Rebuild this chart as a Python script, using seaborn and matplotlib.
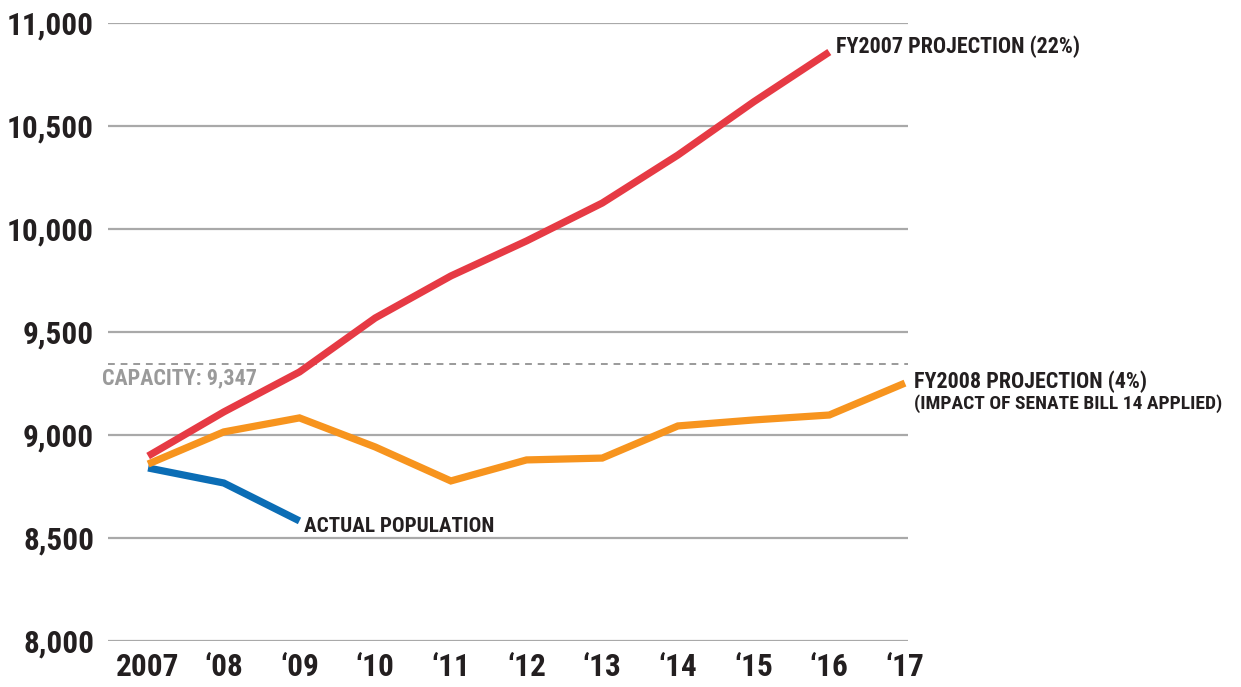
import numpy as np
import pandas as pd
import matplotlib.pyplot as plt
import seaborn as sns

# data
years = [2007, 2008, 2009, 2010, 2011, 2012, 2013, 2014, 2015, 2016, 2017]
tick_labels = ["2007", "\u201808", "\u201809", "\u201810", "\u201811", "\u201812",
               "\u201813", "\u201814", "\u201815", "\u201816", "\u201817"]
fy2007 = [8898, 9112, 9306, 9568, 9772, 9942, 10126, 10359, 10617, 10859]
fy2008 = [8859, 9015, 9083, 8942, 8777, 8879, 8888, 9044, 9073, 9097, 9252]
actual = [8840, 8767, 8583]
capacity = 9347
y_ticks = [8000, 8500, 9000, 9500, 10000, 10500, 11000]

sns.set_style("white")
plt.rcParams['font.family'] = ['Roboto Condensed', 'DejaVu Sans']

fig = plt.figure(figsize=(12.41, 6.87), dpi=100)
ax = fig.add_axes([108 / 1241, 46 / 687, 800 / 1241, 618 / 687])

ax.set_xlim(2006.47, 2017.04)
ax.set_ylim(8000, 11000)
for t in y_ticks:
    ax.axhline(t, color="#a9a9a9", lw=1.6, zorder=0)
ax.axhline(capacity, color="#9a9a9a", lw=1.4, ls=(0, (3.5, 3)), zorder=0)

red, orange, blue = "#e63a44", "#f7941e", "#0b6db5"
df_red = pd.DataFrame({"year": years[:len(fy2007)], "pop": fy2007})
df_org = pd.DataFrame({"year": years, "pop": fy2008})
df_blu = pd.DataFrame({"year": years[:len(actual)], "pop": actual})
sns.lineplot(data=df_org, x="year", y="pop", ax=ax, color=orange, lw=5.2,
             solid_capstyle="butt", solid_joinstyle="miter", zorder=3)
sns.lineplot(data=df_red, x="year", y="pop", ax=ax, color=red, lw=5.2,
             solid_capstyle="butt", solid_joinstyle="miter", zorder=4)
sns.lineplot(data=df_blu, x="year", y="pop", ax=ax, color=blue, lw=5.2,
             solid_capstyle="butt", solid_joinstyle="miter", zorder=2)

ax.set_xticks(years)
ax.set_xticklabels(tick_labels)
ax.set_yticks(y_ticks)
ax.set_yticklabels([f"{v:,}" for v in y_ticks])
ax.tick_params(axis="both", length=0, labelsize=22.5, labelcolor="#231f20")
ax.tick_params(axis="y", pad=10)
ax.tick_params(axis="x", pad=8)
for lab in ax.get_xticklabels() + ax.get_yticklabels():
    lab.set_fontweight("bold")
ax.set_xlabel("")
ax.set_ylabel("")
sns.despine(ax=ax, left=True, bottom=True)

txt = dict(fontweight="bold", color="#231f20", fontsize=15.8, va="center",
           textcoords="offset points", annotation_clip=False)
ax.annotate("FY2007 PROJECTION (22%)", xy=(years[len(fy2007) - 1], fy2007[-1]),
            xytext=(5, 4), **txt)
ax.annotate("FY2008 PROJECTION (4%)", xy=(years[-1], fy2008[-1]),
            xytext=(6.5, 1), **txt)
ax.annotate("(IMPACT OF SENATE BILL 14 APPLIED)", xy=(years[-1], fy2008[-1]),
            xytext=(6.5, -14.5), **dict(txt, fontsize=14))
ax.annotate("ACTUAL POPULATION", xy=(years[len(actual) - 1], actual[-1]),
            xytext=(3, -4), **dict(txt, fontsize=15.2))
ax.annotate("CAPACITY: 9,347", xy=(2006.47, capacity), xytext=(-4, -11),
            **dict(txt, color="#9a9a9a"))

fig.savefig("out.png", dpi=100)
